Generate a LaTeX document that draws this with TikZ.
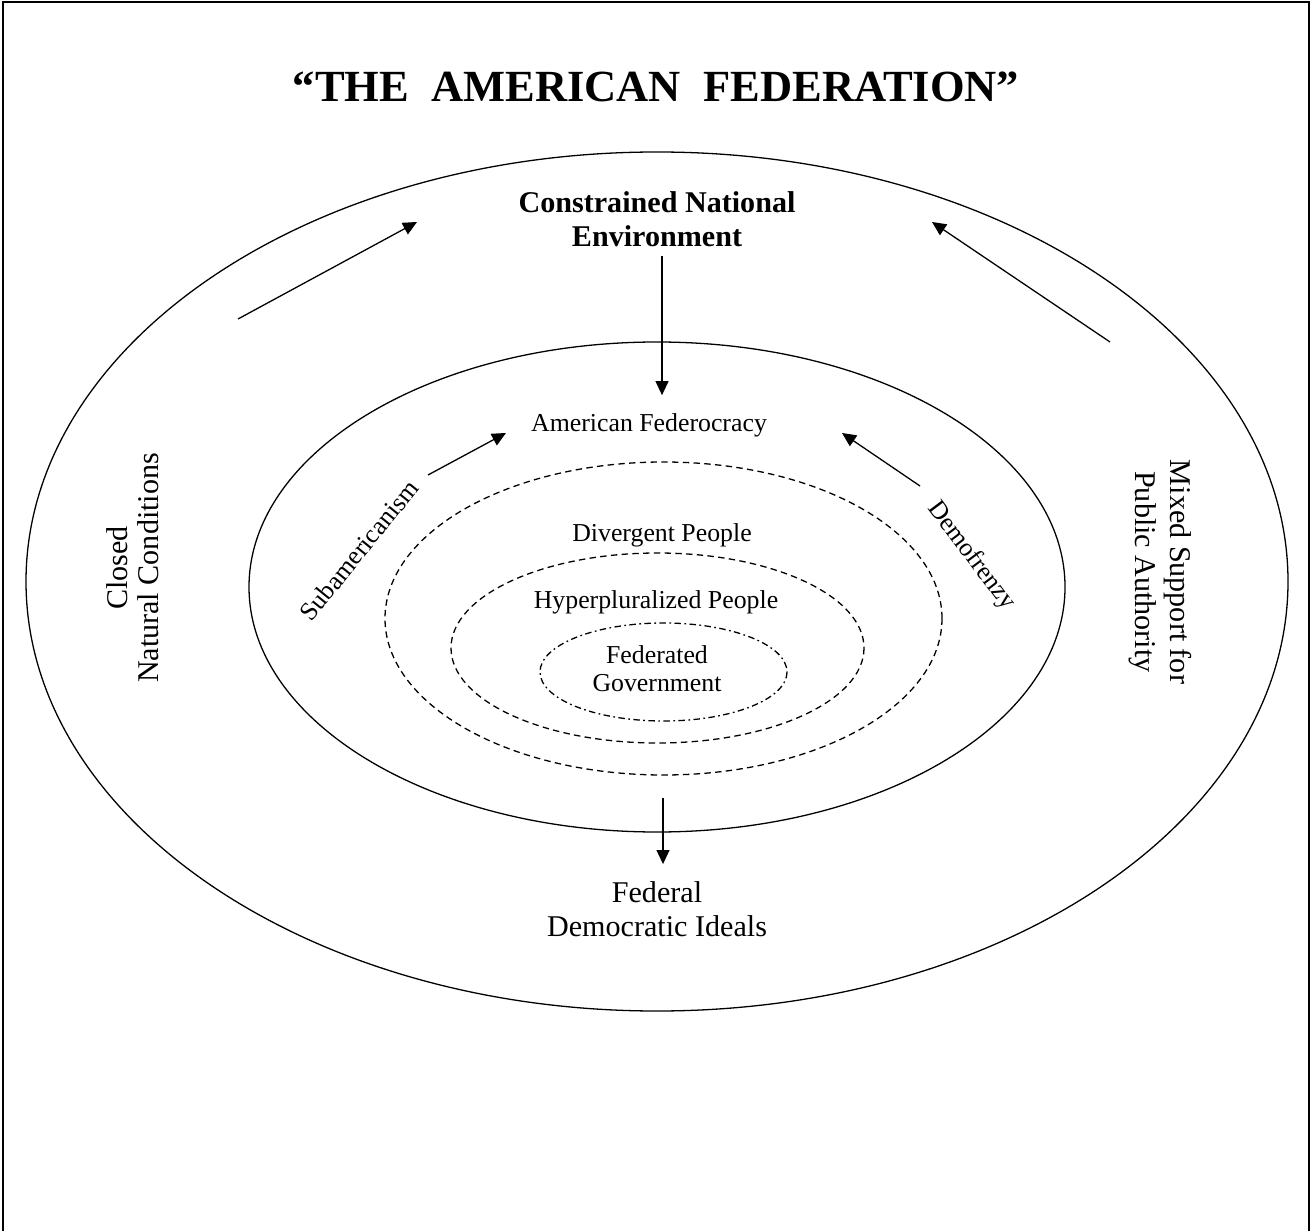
\documentclass[tikz,border=0pt]{standalone}
\usepackage{fontspec}
\setmainfont{Liberation Serif}
\usetikzlibrary{arrows.meta}
\tikzset{every node/.append style={align=center, inner sep=0pt}}
\tikzset{
  arr/.style={line width=0.6pt, -{Triangle[length=6.5pt, width=6pt]}},
  ring/.style={line width=0.6pt},
  dashring/.style={line width=0.6pt, dash pattern=on 3pt off 2pt},
  dotring/.style={line width=0.6pt, dash pattern=on 3pt off 1.6pt on 0.8pt off 1.6pt},
  titletxt/.style={font=\fontsize{20.7}{24}\selectfont\bfseries},
  headtxt/.style={font=\fontsize{14}{15.8}\selectfont\bfseries},
  sidetxt/.style={font=\fontsize{14}{15.8}\selectfont},
  ringtxt/.style={font=\fontsize{12}{13}\selectfont}
}

\begin{document}
\begin{tikzpicture}[x=0.016347cm, y=-0.016347cm]
\useasboundingbox (0,0) rectangle (1311,1231);

% ── Frame (open at the bottom) ────────────────────────────────────────────────
\draw[line width=0.8pt] (3,1231) -- (3,2) -- (1309,2) -- (1309,1231);

% ── Title ─────────────────────────────────────────────────────────────────────
\node[titletxt, anchor=base] (ttl) at (656,102)
      {“THE\ \ AMERICAN\ \ FEDERATION”};

% ── Rings ─────────────────────────────────────────────────────────────────────
\draw[ring]     (657,581.5) ellipse [x radius=631, y radius=429.5];
\draw[ring]     (657,587)   ellipse [x radius=408, y radius=245];
\draw[dashring] (663.5,618.5) ellipse [x radius=278.5, y radius=156.5];
\draw[dashring] (657.5,648) ellipse [x radius=206.5, y radius=95];
\draw[dotring]  (663.5,672) ellipse [x radius=123.5, y radius=49];

% ── Outer ring labels ─────────────────────────────────────────────────────────
\node[headtxt] (cne) at (657,219) {Constrained National\\Environment};
\node[sidetxt, rotate=90, font=\fontsize{14}{14.4}\selectfont] (cnc)
      at (133,568) {Closed\\Natural Conditions};
\node[sidetxt, rotate=-90, font=\fontsize{14}{16.5}\selectfont] (msa)
      at (1160.5,572) {Mixed Support for\\Public Authority};
\node[sidetxt] (fdi) at (657,909.5) {Federal\\Democratic Ideals};

% ── Inner ring labels ─────────────────────────────────────────────────────────
\node[ringtxt, anchor=base] (amf) at (649,432) {American Federocracy};
\node[ringtxt, rotate=51] (sub) at (359,550) {Subamericanism};
\node[ringtxt, rotate=-53] (dmf) at (971,556) {Demofrenzy};
\node[ringtxt, anchor=base] (dvp) at (662,541.5) {Divergent People};
\node[ringtxt, anchor=base] (hpp) at (656,608) {Hyperpluralized People};
\node[ringtxt] (fgv) at (657,669) {Federated\\Government};

% ── Arrows ────────────────────────────────────────────────────────────────────
\coordinate (midx) at (662,0);
\coordinate (ol0) at (238,319);  \coordinate (ol1) at (417,222);
\coordinate (or0) at (1110,342); \coordinate (or1) at (932,222);
\coordinate (il0) at (428,475);  \coordinate (il1) at (506,433);
\coordinate (ir0) at (920,486);  \coordinate (ir1) at (842,433);
\coordinate (dn0) at (663,798);

\draw[arr] (ol0) -- (ol1);
\draw[arr] (or0) -- (or1);
\draw[arr] (il0) -- (il1);
\draw[arr] (ir0) -- (ir1);
\draw[arr, shorten <=4.2pt, shorten >=8.6pt] (cne.south -| midx) -- (amf.north -| midx);
\draw[arr, shorten >=8.1pt] (dn0) -- (fdi.north -| dn0);

\end{tikzpicture}
\end{document}
